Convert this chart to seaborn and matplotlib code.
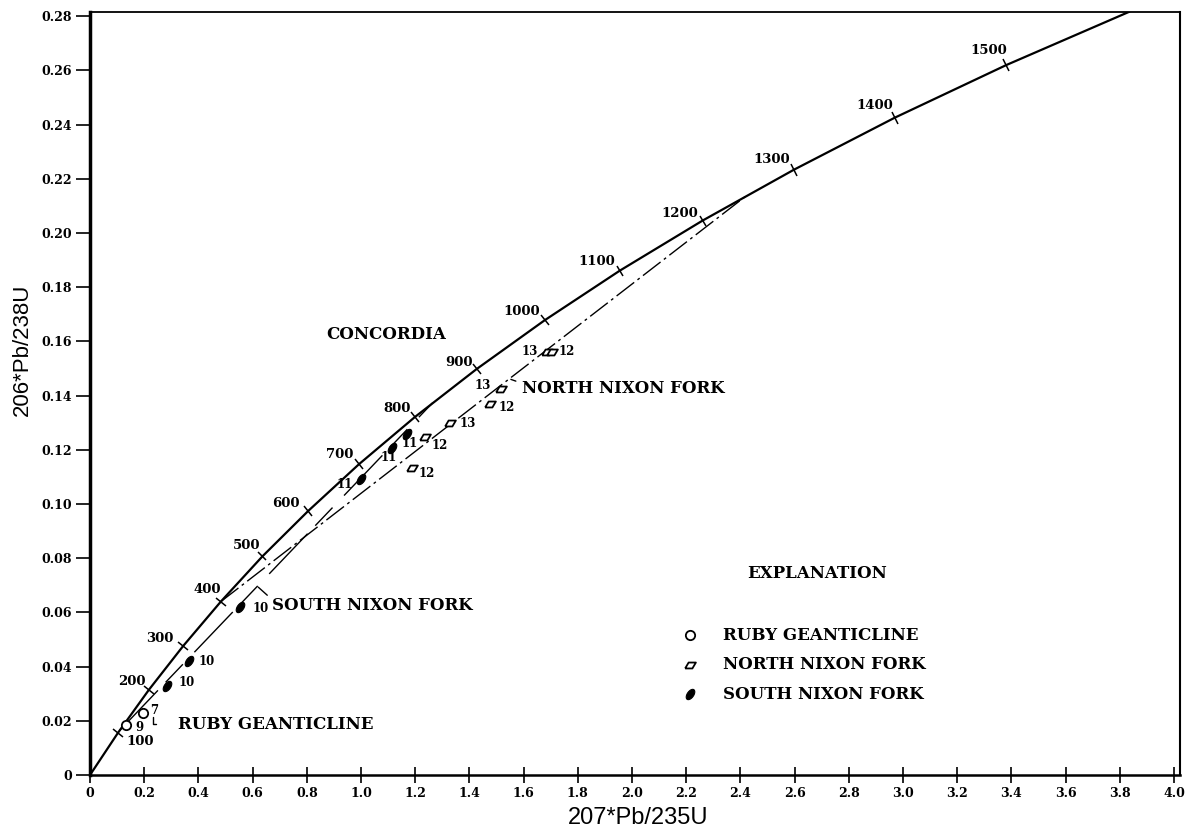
import numpy as np
import seaborn as sns
import matplotlib.pyplot as plt
from matplotlib.markers import MarkerStyle
from matplotlib.transforms import Affine2D

# ---- data -------------------------------------------------------------
# Concordia curve: age (Ma) with 207Pb/235U and 206Pb/238U ratios
concordia_age = [0, 100, 200, 300, 400, 500, 600, 700, 800, 900, 1000,
                 1100, 1200, 1300, 1400, 1500, 1600]
concordia_x = [0.0, 0.1035, 0.2177, 0.3437, 0.4828, 0.6363, 0.8057, 0.9925,
               1.1987, 1.4264, 1.6774, 1.9545, 2.2603, 2.5978, 2.9700,
               3.3810, 3.8355]
concordia_y = [0.0, 0.0156, 0.0315, 0.0476, 0.0640, 0.0807, 0.0975, 0.1147,
               0.1321, 0.1498, 0.1678, 0.1861, 0.2046, 0.2234, 0.2426,
               0.2620, 0.2817]
tick_ages = [100, 200, 300, 400, 500, 600, 700, 800, 900, 1000,
             1100, 1200, 1300, 1400, 1500]

# Discordia chords (lower and upper intercepts on concordia)
nnf_chord_x = [0.4828, 2.4249]
nnf_chord_y = [0.0640, 0.2140]
snf_chord_x = [0.1090, 1.2646]
snf_chord_y = [0.0164, 0.1374]

# Zircon fractions
ruby_x = [0.133, 0.197]
ruby_y = [0.0185, 0.0228]
ruby_labels = ["9", "7"]

snf_x = [0.285, 0.366, 0.553, 0.999, 1.116, 1.169]
snf_y = [0.0330, 0.0422, 0.0621, 0.1092, 0.1205, 0.1260]
snf_labels = ["10", "10", "10", "11", "11", "11"]

nnf_x = [1.187, 1.236, 1.328, 1.476, 1.517, 1.685, 1.703]
nnf_y = [0.1132, 0.1246, 0.1298, 0.1369, 0.1423, 0.1562, 0.1562]
nnf_labels = ["12", "12", "13", "12", "13", "13", "12"]

x_ticks = [0.0, 0.2, 0.4, 0.6, 0.8, 1.0, 1.2, 1.4, 1.6, 1.8, 2.0,
           2.2, 2.4, 2.6, 2.8, 3.0, 3.2, 3.4, 3.6, 3.8, 4.0]
x_ticklabels = ["0", "0.2", "0.4", "0.6", "0.8", "1.0", "1.2", "1.4", "1.6",
                "1.8", "2.0", "2.2", "2.4", "2.6", "2.8", "3.0", "3.2",
                "3.4", "3.6", "3.8", "4.0"]
y_ticks = [0.0, 0.02, 0.04, 0.06, 0.08, 0.10, 0.12, 0.14, 0.16, 0.18,
           0.20, 0.22, 0.24, 0.26, 0.28]
y_ticklabels = ["0", "0.02", "0.04", "0.06", "0.08", "0.10", "0.12", "0.14",
                "0.16", "0.18", "0.20", "0.22", "0.24", "0.26", "0.28"]

# ---- layout helpers (pixel offsets of annotations) ---------------------
age_label_offsets = [(22, -9), (-17, 8), (-23, 8), (-14, 12), (-16, 11),
                     (-22, 7), (-19, 10), (-18, 9), (-18, 7), (-23, 9),
                     (-23, 9), (-23, 7), (-22, 10), (-20, 12), (-18, 15)]
ruby_offsets = [(13, -3), (11, 3)]
snf_offsets = [(19, 3), (17, -1), (21, -2), (-16, -5), (-4, -9), (3, -10)]
nnf_offsets = [(15, -5), (15, -8), (18, 0), (17, -3), (-18, 4), (-17, 0), (15, 0)]

# ---- figure -----------------------------------------------------------
sns.set_theme(style="white")
plt.rcParams['font.family'] = ['DejaVu Serif']
plt.rcParams['text.color'] = 'black'
plt.rcParams['axes.labelcolor'] = 'black'
plt.rcParams['xtick.color'] = 'black'
plt.rcParams['ytick.color'] = 'black'
serif = dict(family='DejaVu Serif', weight='bold')
sans = ['Liberation Sans', 'DejaVu Sans']

fig = plt.figure(figsize=(11.97, 8.4), dpi=100)
ax = fig.add_axes([0.0752, 0.0774, 0.9106, 0.9087])
ax.set_xlim(0, 4.022)
ax.set_ylim(0, 0.2817)

# concordia
sns.lineplot(x=concordia_x, y=concordia_y, sort=False, estimator=None,
             color='black', linewidth=1.6, ax=ax, zorder=3)

# discordia chords
sns.lineplot(x=nnf_chord_x, y=nnf_chord_y, sort=False, estimator=None,
             color='black', linewidth=1.0, ax=ax, zorder=2,
             linestyle=(0, (16, 3, 2, 3)))
sns.lineplot(x=snf_chord_x, y=snf_chord_y, sort=False, estimator=None,
             color='black', linewidth=1.0, ax=ax, zorder=2,
             linestyle=(0, (40, 8, 18, 12)))

# age ticks on concordia, drawn perpendicular to the curve
fig.canvas.draw()
pts = ax.transData.transform(np.column_stack([concordia_x, concordia_y]))
for age, (dx, dy) in zip(tick_ages, age_label_offsets):
    i = concordia_age.index(age)
    d = pts[i + 1] - pts[i - 1]
    ang = np.degrees(np.arctan2(d[1], d[0]))
    mk = MarkerStyle('_', transform=Affine2D().rotate_deg(ang + 90))
    ax.plot(concordia_x[i], concordia_y[i], marker=mk, markersize=9,
            markeredgewidth=1.1, color='black', zorder=3)
    ax.annotate(str(age), (concordia_x[i], concordia_y[i]),
                xytext=(dx, dy), textcoords='offset pixels',
                ha='center', va='center', fontsize=9.5, **serif)

# markers
para = [(-1.0, -0.55), (0.35, -0.55), (1.0, 0.55), (-0.35, 0.55), (-1.0, -0.55)]
t = np.linspace(0, 2 * np.pi, 25)
ell = np.column_stack([0.55 * np.cos(t), np.sin(t)])
rot = np.radians(-35)
ell = ell @ np.array([[np.cos(rot), np.sin(rot)], [-np.sin(rot), np.cos(rot)]])
leaf = [tuple(p) for p in ell]

sns.scatterplot(x=ruby_x, y=ruby_y, marker='o', s=45, color='white',
                edgecolor='black', linewidth=1.3, ax=ax, zorder=5,
                label='RUBY GEANTICLINE')
sns.scatterplot(x=nnf_x, y=nnf_y, marker=para, s=60, color='white',
                edgecolor='black', linewidth=1.3, ax=ax, zorder=5,
                label='NORTH NIXON FORK')
sns.scatterplot(x=snf_x, y=snf_y, marker=leaf, s=55, color='black',
                edgecolor='black', linewidth=0.8, ax=ax, zorder=5,
                label='SOUTH NIXON FORK')

for xs, ys, labs, offs in [(ruby_x, ruby_y, ruby_labels, ruby_offsets),
                           (snf_x, snf_y, snf_labels, snf_offsets),
                           (nnf_x, nnf_y, nnf_labels, nnf_offsets)]:
    for x, y, lab, (dx, dy) in zip(xs, ys, labs, offs):
        ax.annotate(lab, (x, y), xytext=(dx, dy), textcoords='offset pixels',
                    ha='center', va='center', fontsize=8.5, **serif)

# names on the diagram
ax.text(0.873, 0.1624, "CONCORDIA", ha='left', va='center', fontsize=12, **serif)
ax.annotate("NORTH NIXON FORK", xy=(1.553, 0.1460), xytext=(1.593, 0.1427),
            ha='left', va='center', fontsize=12, **serif,
            arrowprops=dict(arrowstyle='-', color='black', lw=1.0,
                            relpos=(0, 0.8), shrinkA=2, shrinkB=0))
ax.annotate("SOUTH NIXON FORK", xy=(0.621, 0.0693), xytext=(0.670, 0.0624),
            ha='left', va='center', fontsize=12, **serif,
            arrowprops=dict(arrowstyle='-', color='black', lw=1.0,
                            relpos=(0, 0.9), shrinkA=1, shrinkB=0))
ax.annotate("RUBY GEANTICLINE", xy=(0.232, 0.0215), xytext=(0.326, 0.0187),
            ha='left', va='center', fontsize=12, **serif,
            arrowprops=dict(arrowstyle='-', color='black', lw=1.0,
                            connectionstyle='angle,angleA=0,angleB=90,rad=0',
                            shrinkA=14, shrinkB=0))

# explanation block
ax.text(2.683, 0.0745, "EXPLANATION", ha='center', va='center', fontsize=12, **serif)
leg = ax.legend(loc='upper left', bbox_to_anchor=(0.535, 0.205), frameon=False,
                prop=dict(family='DejaVu Serif', weight='bold', size=12),
                handlelength=1.0, handletextpad=1.5, labelspacing=0.75,
                borderpad=0, labelcolor='black')

# axes styling
ax.set_xticks(x_ticks)
ax.set_xticklabels(x_ticklabels, fontsize=9, color='black', **serif)
ax.set_yticks(y_ticks)
ax.set_yticklabels(y_ticklabels, fontsize=9, color='black', **serif)
ax.tick_params(axis='x', direction='inout', length=12, width=1.2, color='black',
               pad=3, bottom=True)
ax.tick_params(axis='y', direction='out', length=10, width=1.2, color='black',
               pad=3, left=True)
for side, w in [('left', 2.5), ('bottom', 1.8), ('top', 1.3), ('right', 1.5)]:
    ax.spines[side].set_visible(True)
    ax.spines[side].set_color('black')
    ax.spines[side].set_linewidth(w)

ax.set_xlabel("207*Pb/235U", family=sans, fontsize=17, color='black')
ax.set_ylabel("206*Pb/238U", family=sans, fontsize=16, color='black')
ax.xaxis.set_label_coords(0.503, -0.042)
ax.yaxis.set_label_coords(-0.052, 0.557)
ax.grid(False)

fig.savefig("out.png", dpi=100, facecolor='white')
